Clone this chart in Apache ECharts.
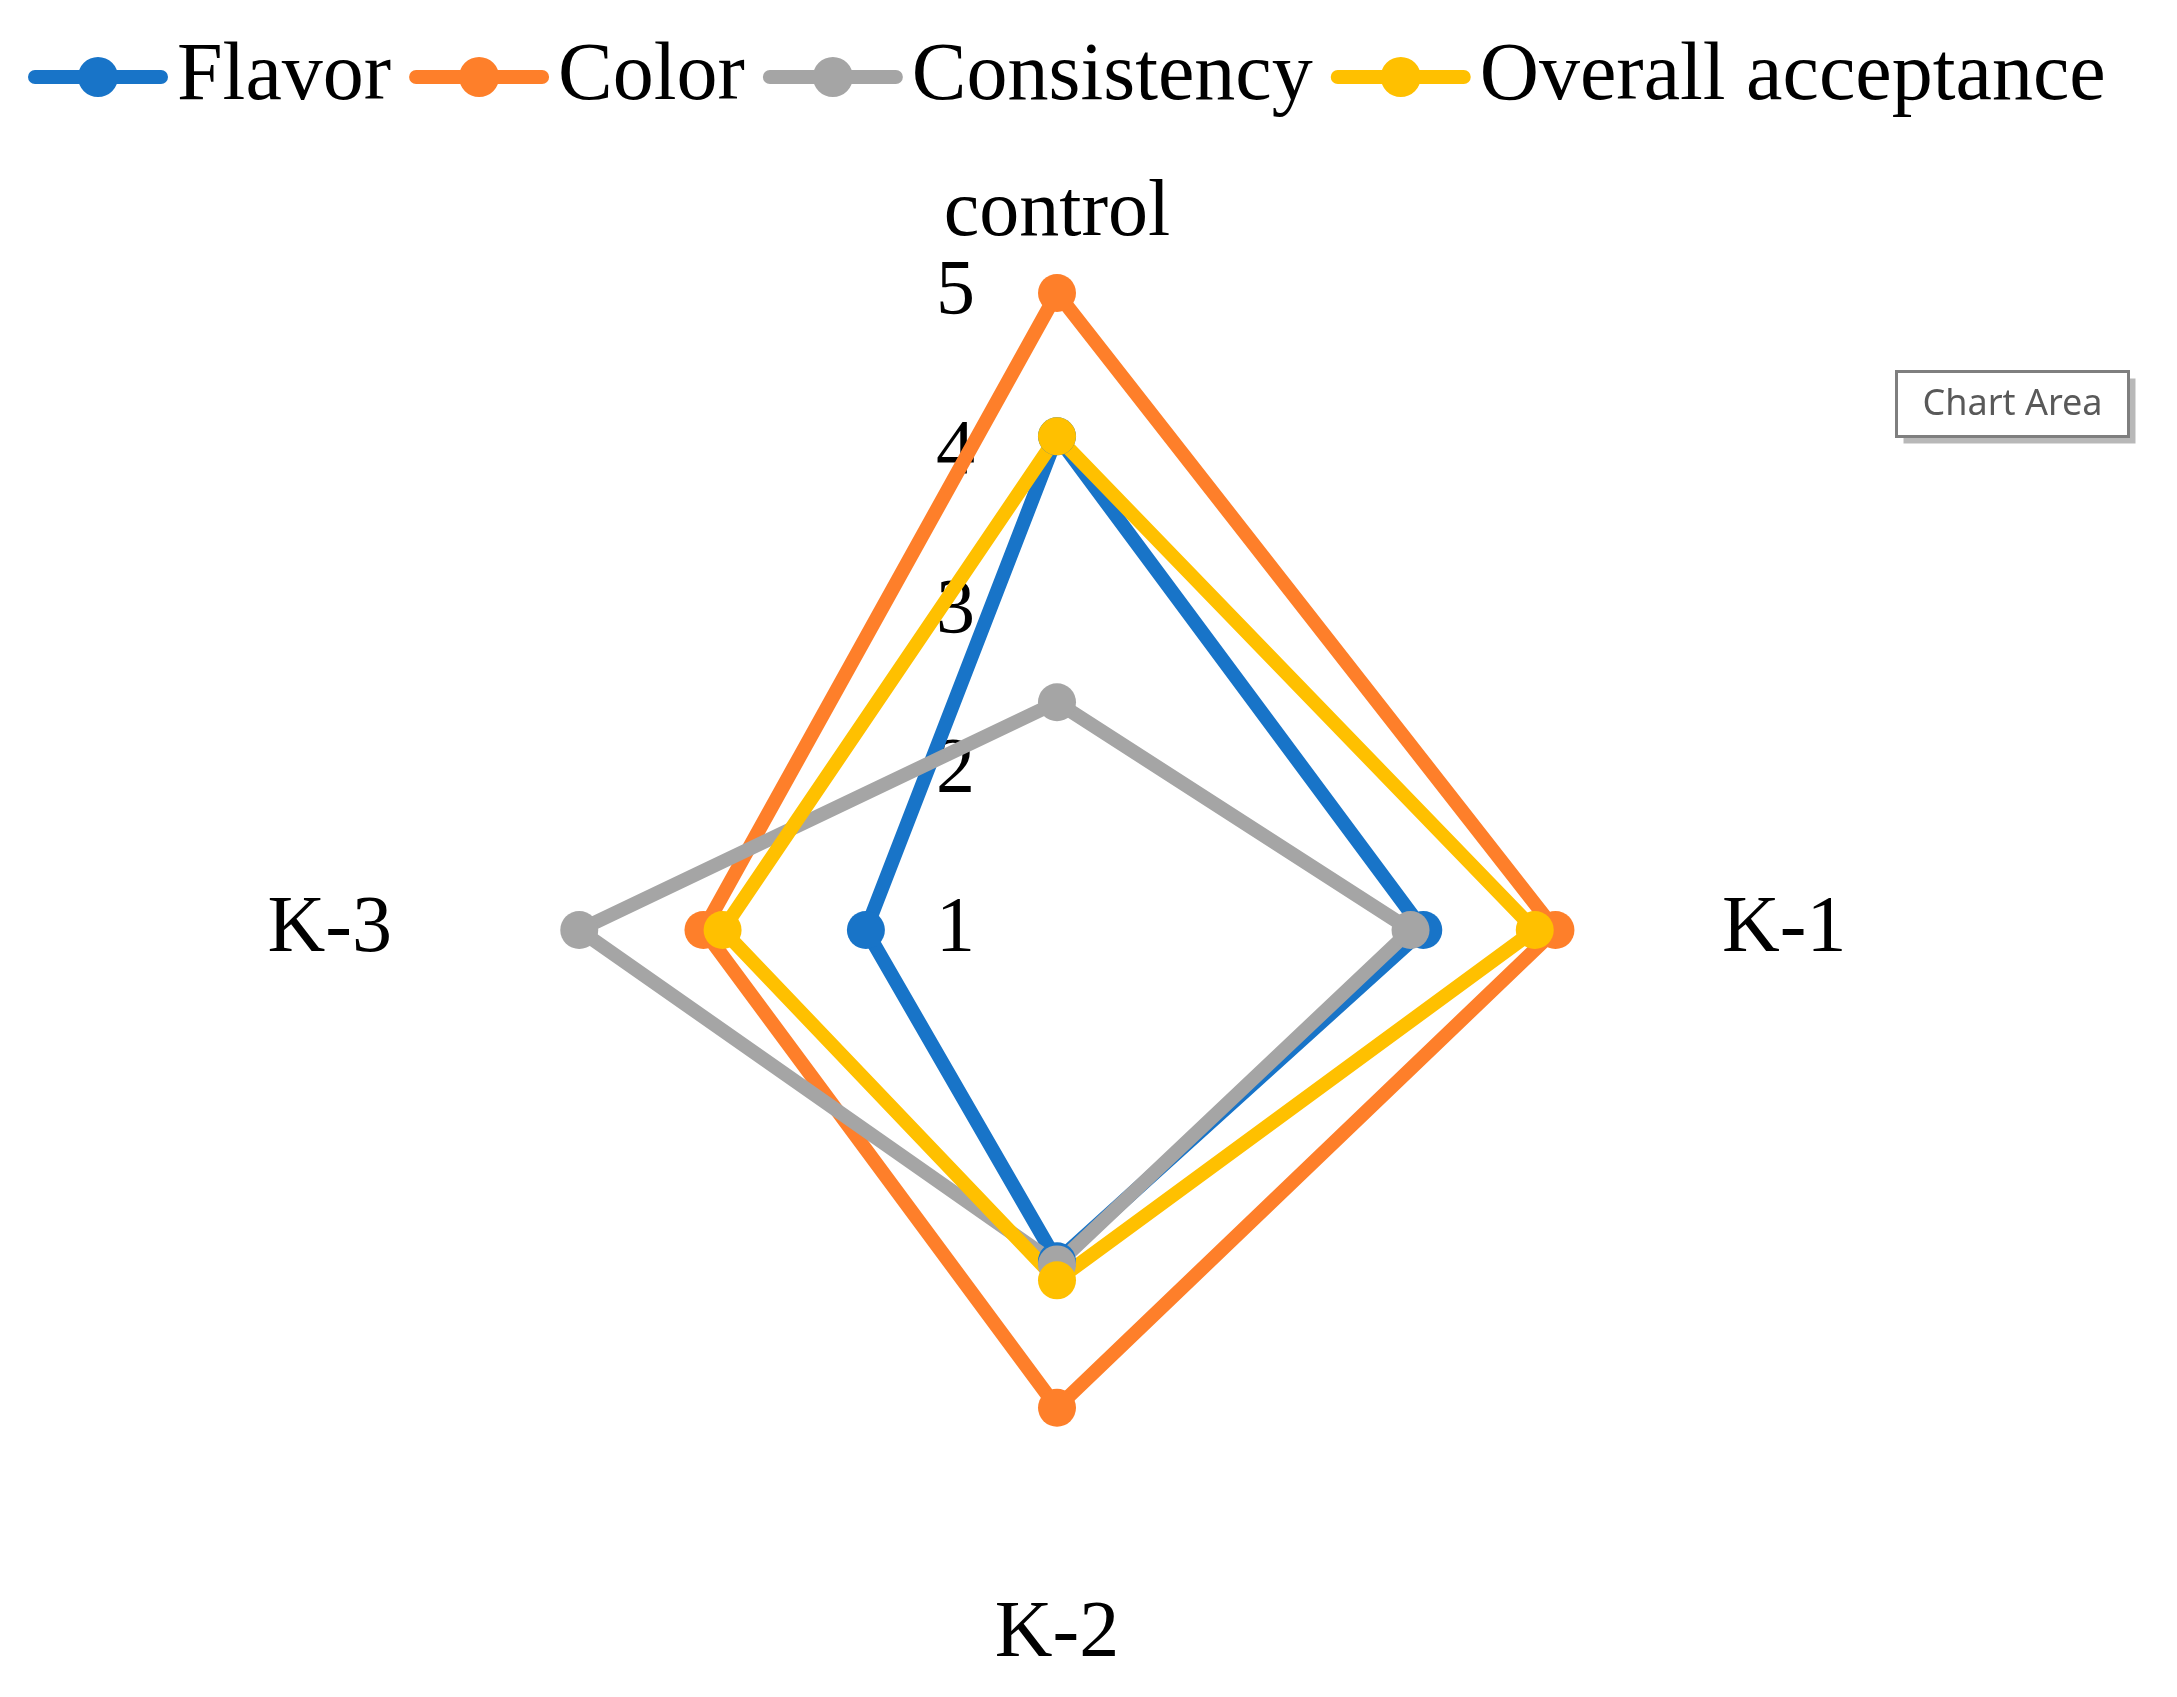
<!DOCTYPE html>
<html>
<head>
<meta charset="utf-8">
<title>Radar</title>
<script src="https://cdn.jsdelivr.net/npm/echarts@6/dist/echarts.min.js"></script>
<style>
  html, body { margin: 0; padding: 0; background: #fff; }
  #chart { width: 2177px; height: 1697px; }
</style>
</head>
<body>
<div id="chart"></div>
<script>
// indicator order as drawn by echarts (counterclockwise from the top)
const categories = ['control', 'K-3', 'K-2', 'K-1'];
const ticks = [1, 2, 3, 4, 5];

const seriesNames = ['Flavor', 'Color', 'Consistency', 'Overall acceptance'];
const flavor = [4.1, 2.2, 3.08, 3.3];
const color = [5.0, 3.22, 4.0, 4.13];
const consistency = [2.43, 4.0, 3.1, 3.22];
const overall = [4.1, 3.1, 3.2, 4.0];

const palette = ['#1874C8', '#FE7F2A', '#A5A5A5', '#FFC000'];
const values = [flavor, color, consistency, overall];

const serif = 'Liberation Serif, Times New Roman, serif';
// line with round caps + dot, same look as the legend keys
const legendIcon = 'path://M7,13 L133,13 A7,7 0 0,1 133,27 L7,27 A7,7 0 0,1 7,13 Z M50,20 A20,20 0 1,1 90,20 A20,20 0 1,1 50,20 Z';

let myChart = echarts.init(document.getElementById('chart'));

let option = {
    animation: false,
    backgroundColor: '#fff',
    color: palette,
    legend: {
        data: seriesNames,
        left: 28,
        top: 36,
        icon: legendIcon,
        itemWidth: 140,
        itemHeight: 40,
        itemGap: 18,
        padding: 0,
        itemStyle: { borderWidth: 0 },
        textStyle: {
            fontFamily: serif,
            fontSize: 82,
            color: '#000',
            padding: [0, 0, 0, 4]
        }
    },
    radar: {
        center: [1057, 930],
        radius: 637,
        startAngle: 90,
        shape: 'polygon',
        splitNumber: ticks.length - 1,
        nameGap: 28,
        axisName: {
            color: '#000',
            fontFamily: serif,
            fontSize: 80
        },
        axisLine: { show: false },
        axisTick: { show: false },
        splitLine: { show: false },
        splitArea: { show: false },
        axisLabel: { show: false },
        indicator: categories.map((name, i) => {
            let ind = { name: name, min: ticks[0], max: ticks[ticks.length - 1] };
            if (i === 0) {
                ind.axisLabel = {
                    show: true,
                    margin: 82,
                    color: '#000',
                    fontFamily: serif,
                    fontSize: 78
                };
            }
            return ind;
        })
    },
    series: [
        {
            type: 'radar',
            symbol: 'circle',
            symbolSize: 38,
            data: seriesNames.map((name, i) => ({
                name: name,
                value: values[i],
                itemStyle: { color: palette[i], borderWidth: 0 },
                lineStyle: { color: palette[i], width: 14 }
            }))
        }
    ],
    graphic: [
        {
            type: 'group',
            left: 1895,
            top: 370,
            children: [
                {
                    type: 'rect',
                    shape: { x: 7, y: 7, width: 232, height: 65 },
                    style: { fill: 'rgba(0,0,0,0.28)' },
                    z: 1
                },
                {
                    type: 'rect',
                    shape: { x: 0, y: 0, width: 232, height: 65 },
                    style: { fill: '#fff', stroke: '#7F7F7F', lineWidth: 3 },
                    z: 2
                },
                {
                    type: 'text',
                    x: 116,
                    y: 33,
                    z: 3,
                    style: {
                        text: 'Chart Area',
                        fill: '#595959',
                        font: '36px "Noto Sans", sans-serif',
                        align: 'center',
                        verticalAlign: 'middle'
                    }
                }
            ]
        }
    ]
};

option && myChart.setOption(option);
</script>
</body>
</html>
